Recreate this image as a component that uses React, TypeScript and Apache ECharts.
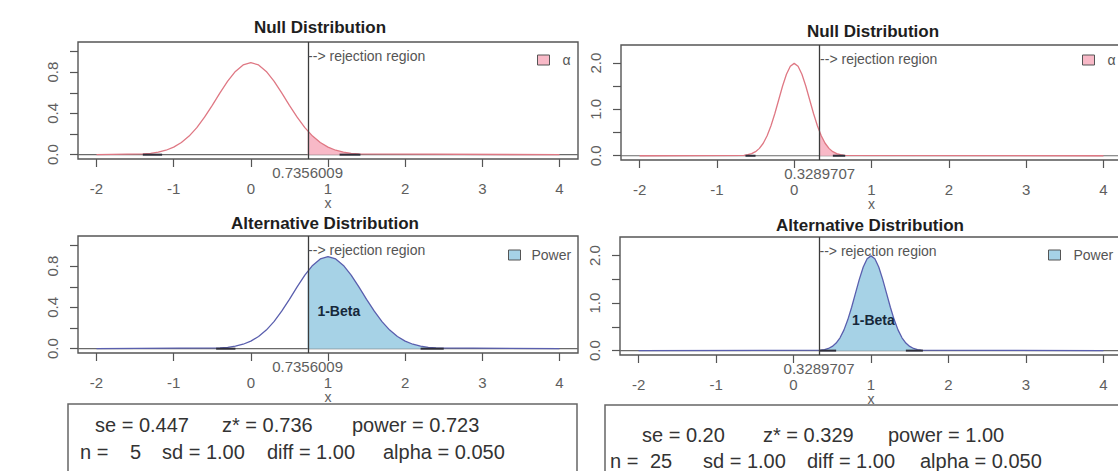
import React, { useEffect, useRef } from 'react';
import * as echarts from 'echarts';

const FONT = '"Liberation Sans", Arial, Helvetica, sans-serif';

// ---- axis ticks / labels ----
const X_DATA_RANGE = [-2, 4];
const X_TICKS = [-2, -1, 0, 1, 2, 3, 4];
const Y_LIM_N5 = 1.05;
const Y_LIM_N25 = 2.3;
const Y_TICKS_N5 = [0, 0.2, 0.4, 0.6, 0.8, 1.0];
const Y_LABELS_N5 = [0, 0.4, 0.8];
const Y_TICKS_N25 = [0, 0.5, 1, 1.5, 2];
const Y_LABELS_N25 = [0, 1, 2];

// ---- critical values ----
const Z_STAR_N5 = 0.7356009;
const Z_LABEL_N5 = '0.7356009';
const Z_STAR_N25 = 0.3289707;
const Z_LABEL_N25 = '0.3289707';

// ---- n = 5 densities ----
const N5_NULL_X = [-2, -1.4, -1.3, -1.2, -1.1, -1.0, -0.9, -0.8, -0.7, -0.6, -0.5, -0.4, -0.3, -0.2, -0.1, 0, 0.1, 0.2, 0.3, 0.4, 0.5, 0.6, 0.7, 0.8, 0.9, 1.0, 1.1, 1.2, 1.3, 1.4, 4];
const N5_NULL_Y = [0, 0.007, 0.013, 0.024, 0.043, 0.073, 0.118, 0.180, 0.262, 0.363, 0.478, 0.598, 0.712, 0.807, 0.870, 0.892, 0.870, 0.807, 0.712, 0.598, 0.478, 0.363, 0.262, 0.180, 0.118, 0.073, 0.043, 0.024, 0.013, 0.007, 0];
const N5_ALT_X = [-2, -0.4, -0.3, -0.2, -0.1, 0, 0.1, 0.2, 0.3, 0.4, 0.5, 0.6, 0.7, 0.8, 0.9, 1.0, 1.1, 1.2, 1.3, 1.4, 1.5, 1.6, 1.7, 1.8, 1.9, 2.0, 2.1, 2.2, 2.3, 2.4, 4];
const N5_ALT_Y = [0, 0.007, 0.013, 0.024, 0.043, 0.073, 0.118, 0.180, 0.262, 0.363, 0.478, 0.598, 0.712, 0.807, 0.870, 0.892, 0.870, 0.807, 0.712, 0.598, 0.478, 0.363, 0.262, 0.180, 0.118, 0.073, 0.043, 0.024, 0.013, 0.007, 0];
const N5_NULL_FILL_X = [0.7356, 0.8, 0.9, 1.0, 1.1, 1.2, 1.3, 1.4];
const N5_NULL_FILL_Y = [0.231, 0.180, 0.118, 0.073, 0.043, 0.024, 0.013, 0.007];
const N5_ALT_FILL_X = [0.7356, 0.8, 0.9, 1.0, 1.1, 1.2, 1.3, 1.4, 1.5, 1.6, 1.7, 1.8, 1.9, 2.0, 2.1, 2.2, 2.3, 2.4];
const N5_ALT_FILL_Y = [0.749, 0.807, 0.870, 0.892, 0.870, 0.807, 0.712, 0.598, 0.478, 0.363, 0.262, 0.180, 0.118, 0.073, 0.043, 0.024, 0.013, 0.007];
const N5_NULL_TAILS = [[-1.4, -1.15], [1.15, 1.42]];
const N5_ALT_TAILS = [[-0.45, -0.2], [2.2, 2.5]];

// ---- n = 25 densities ----
const N25_NULL_X = [-2, -0.65, -0.6, -0.55, -0.5, -0.45, -0.4, -0.35, -0.3, -0.25, -0.2, -0.15, -0.1, -0.05, 0, 0.05, 0.1, 0.15, 0.2, 0.25, 0.3, 0.35, 0.4, 0.45, 0.5, 0.55, 0.6, 0.65, 4];
const N25_NULL_Y = [0, 0.010, 0.022, 0.045, 0.088, 0.159, 0.270, 0.432, 0.648, 0.913, 1.210, 1.506, 1.760, 1.934, 1.995, 1.934, 1.760, 1.506, 1.210, 0.913, 0.648, 0.432, 0.270, 0.159, 0.088, 0.045, 0.022, 0.010, 0];
const N25_ALT_X = [-2, 0.35, 0.4, 0.45, 0.5, 0.55, 0.6, 0.65, 0.7, 0.75, 0.8, 0.85, 0.9, 0.95, 1.0, 1.05, 1.1, 1.15, 1.2, 1.25, 1.3, 1.35, 1.4, 1.45, 1.5, 1.55, 1.6, 1.65, 4];
const N25_ALT_Y = [0, 0.010, 0.022, 0.045, 0.088, 0.159, 0.270, 0.432, 0.648, 0.913, 1.210, 1.506, 1.760, 1.934, 1.995, 1.934, 1.760, 1.506, 1.210, 0.913, 0.648, 0.432, 0.270, 0.159, 0.088, 0.045, 0.022, 0.010, 0];
const N25_NULL_FILL_X = [0.329, 0.35, 0.4, 0.45, 0.5, 0.55, 0.6, 0.65];
const N25_NULL_FILL_Y = [0.516, 0.432, 0.270, 0.159, 0.088, 0.045, 0.022, 0.010];
const N25_ALT_FILL_X = [0.329, 0.35, 0.4, 0.45, 0.5, 0.55, 0.6, 0.65, 0.7, 0.75, 0.8, 0.85, 0.9, 0.95, 1.0, 1.05, 1.1, 1.15, 1.2, 1.25, 1.3, 1.35, 1.4, 1.45, 1.5, 1.55, 1.6, 1.65];
const N25_ALT_FILL_Y = [0.007, 0.010, 0.022, 0.045, 0.088, 0.159, 0.270, 0.432, 0.648, 0.913, 1.210, 1.506, 1.760, 1.934, 1.995, 1.934, 1.760, 1.506, 1.210, 0.913, 0.648, 0.432, 0.270, 0.159, 0.088, 0.045, 0.022, 0.010];
const N25_NULL_TAILS = [[-0.63, -0.5], [0.5, 0.66]];
const N25_ALT_TAILS = [[0.33, 0.55], [1.45, 1.67]];

// ---- annotation positions (data coords) ----
const REJ_LABEL_Y_N5 = 0.96;
const REJ_LABEL_Y_N25 = 2.1;
const BETA_POS_N5 = [1.14, 0.365];
const BETA_POS_N25 = [1.03, 0.64];

// ---- summary texts ----
const SUMMARY_N5_LINE1 = ['se = 0.447', 'z* = 0.736', 'power = 0.723'];
const SUMMARY_N5_LINE2 = ['n =', '5', 'sd = 1.00', 'diff = 1.00', 'alpha = 0.050'];
const SUMMARY_N25_LINE1 = ['se = 0.20', 'z* = 0.329', 'power = 1.00'];
const SUMMARY_N25_LINE2 = ['n =', '25', 'sd = 1.00', 'diff = 1.00', 'alpha = 0.050'];

const NULL_LINE = '#df7884';
const NULL_FILL = '#f8b9c7';
const ALT_LINE = '#5a5fae';
const ALT_FILL = '#a6d2e6';
const ALT_BASE = '#a3a3e3';
const BOX = '#555555';
const TICK_TEXT = '#5e5e5e';

const zip = (xs: number[], ys: number[]) => xs.map((x, i) => [x, ys[i]]);

type Panel = {
  grid: { left: number; top: number; width: number; height: number };
  title: string; titleX: number; titleY: number;
  yLim: number; yTicks: number[]; yLabels: number[];
  curveX: number[]; curveY: number[]; curveColor: string; baseColor: string;
  fillX: number[]; fillY: number[]; fillColor: string; fillName: string;
  tails: number[][]; zStar: number; zLabel: string; rejY: number;
  beta: number[] | null;
  legend: { left: number; top: number; gap: number };
};

const panels: Panel[] = [
  {
    grid: { left: 78, top: 42, width: 500, height: 117 },
    title: 'Null Distribution', titleX: 320, titleY: 27,
    yLim: Y_LIM_N5, yTicks: Y_TICKS_N5, yLabels: Y_LABELS_N5,
    curveX: N5_NULL_X, curveY: N5_NULL_Y, curveColor: NULL_LINE, baseColor: NULL_LINE,
    fillX: N5_NULL_FILL_X, fillY: N5_NULL_FILL_Y, fillColor: NULL_FILL, fillName: 'α',
    tails: N5_NULL_TAILS, zStar: Z_STAR_N5, zLabel: Z_LABEL_N5, rejY: REJ_LABEL_Y_N5,
    beta: null, legend: { left: 537, top: 53, gap: 8 },
  },
  {
    grid: { left: 621, top: 45, width: 501, height: 115 },
    title: 'Null Distribution', titleX: 873, titleY: 31,
    yLim: Y_LIM_N25, yTicks: Y_TICKS_N25, yLabels: Y_LABELS_N25,
    curveX: N25_NULL_X, curveY: N25_NULL_Y, curveColor: NULL_LINE, baseColor: NULL_LINE,
    fillX: N25_NULL_FILL_X, fillY: N25_NULL_FILL_Y, fillColor: NULL_FILL, fillName: 'α',
    tails: N25_NULL_TAILS, zStar: Z_STAR_N25, zLabel: Z_LABEL_N25, rejY: REJ_LABEL_Y_N25,
    beta: null, legend: { left: 1082, top: 53, gap: 8 },
  },
  {
    grid: { left: 78, top: 236, width: 500, height: 117 },
    title: 'Alternative Distribution', titleX: 325, titleY: 223,
    yLim: Y_LIM_N5, yTicks: Y_TICKS_N5, yLabels: Y_LABELS_N5,
    curveX: N5_ALT_X, curveY: N5_ALT_Y, curveColor: ALT_LINE, baseColor: ALT_BASE,
    fillX: N5_ALT_FILL_X, fillY: N5_ALT_FILL_Y, fillColor: ALT_FILL, fillName: 'Power',
    tails: N5_ALT_TAILS, zStar: Z_STAR_N5, zLabel: Z_LABEL_N5, rejY: REJ_LABEL_Y_N5,
    beta: BETA_POS_N5, legend: { left: 508, top: 248, gap: 6 },
  },
  {
    grid: { left: 620, top: 237, width: 502, height: 118 },
    title: 'Alternative Distribution', titleX: 870, titleY: 225,
    yLim: Y_LIM_N25, yTicks: Y_TICKS_N25, yLabels: Y_LABELS_N25,
    curveX: N25_ALT_X, curveY: N25_ALT_Y, curveColor: ALT_LINE, baseColor: ALT_BASE,
    fillX: N25_ALT_FILL_X, fillY: N25_ALT_FILL_Y, fillColor: ALT_FILL, fillName: 'Power',
    tails: N25_ALT_TAILS, zStar: Z_STAR_N25, zLabel: Z_LABEL_N25, rejY: REJ_LABEL_Y_N25,
    beta: BETA_POS_N25, legend: { left: 1048, top: 248, gap: 8 },
  },
];

function buildOption() {
  const span = X_DATA_RANGE[1] - X_DATA_RANGE[0];
  const xMin = X_DATA_RANGE[0] - 0.04 * span;
  const xMax = X_DATA_RANGE[1] + 0.04 * span;

  const grid: any[] = [];
  const xAxis: any[] = [];
  const yAxis: any[] = [];
  const series: any[] = [];
  const legend: any[] = [];
  const graphic: any[] = [];

  panels.forEach((p, gi) => {
    grid.push({
      ...p.grid, show: true, borderColor: BOX, borderWidth: 1.4,
      backgroundColor: 'transparent', containLabel: false, outerBoundsMode: 'none',
    });
    const tickLine = { color: BOX, width: 1.2 };
    xAxis.push({
      type: 'value', gridIndex: gi, min: xMin, max: xMax, position: 'bottom',
      axisLine: { show: false, onZero: false },
      axisTick: { show: true, inside: false, length: 8, customValues: X_TICKS, lineStyle: tickLine },
      axisLabel: { customValues: X_TICKS, margin: 22, fontSize: 15, color: TICK_TEXT, fontFamily: FONT },
      splitLine: { show: false },
      name: 'x', nameLocation: 'middle', nameGap: 37, nameMoveOverlap: false,
      nameTextStyle: { fontSize: 14, color: TICK_TEXT, fontFamily: FONT },
    });
    xAxis.push({
      type: 'value', gridIndex: gi, min: xMin, max: xMax, position: 'bottom',
      axisLine: { show: false, onZero: false },
      axisTick: { show: false },
      axisLabel: {
        customValues: [p.zStar], formatter: () => p.zLabel, margin: 6,
        fontSize: 15, color: TICK_TEXT, fontFamily: FONT,
      },
      splitLine: { show: false },
    });
    yAxis.push({
      type: 'value', gridIndex: gi, min: -0.04 * p.yLim, max: 1.04 * p.yLim,
      axisLine: { show: false, onZero: false },
      axisTick: { show: true, inside: false, length: 8, customValues: p.yTicks, lineStyle: tickLine },
      axisLabel: {
        customValues: p.yLabels, formatter: (v: number) => Number(v).toFixed(1),
        rotate: 90, margin: 18, fontSize: 15, color: TICK_TEXT, fontFamily: FONT,
      },
      splitLine: { show: false },
    });

    const xi = gi * 2;
    // gray abline at 0
    series.push({
      type: 'line', xAxisIndex: xi, yAxisIndex: gi, silent: true, symbol: 'none', z: 1,
      data: [[xMin, 0], [xMax, 0]], lineStyle: { color: '#6a6a6a', width: 1.2 },
    });
    // shaded region
    series.push({
      name: p.fillName, type: 'line', xAxisIndex: xi, yAxisIndex: gi, silent: true,
      symbol: 'none', z: 2, data: zip(p.fillX, p.fillY),
      itemStyle: { color: p.fillColor },
      lineStyle: { width: 0, color: p.fillColor },
      areaStyle: { color: p.fillColor, opacity: 1 },
    });
    // density curve (incl. flat baseline part)
    const markPoints: any[] = [
      {
        coord: [p.zStar, p.rejY], symbol: 'rect', symbolSize: 1,
        itemStyle: { color: 'rgba(0,0,0,0)' },
        label: {
          show: true, position: 'right', distance: 0, formatter: '--> rejection region',
          fontSize: 14, color: '#555', fontFamily: FONT,
        },
      },
    ];
    if (p.beta) {
      markPoints.push({
        coord: p.beta, symbol: 'rect', symbolSize: 1,
        itemStyle: { color: 'rgba(0,0,0,0)' },
        label: {
          show: true, position: 'inside', formatter: '1-Beta',
          fontSize: 14, fontWeight: 'bold', color: '#16283a', fontFamily: FONT,
        },
      });
    }
    series.push({
      type: 'line', xAxisIndex: xi, yAxisIndex: gi, silent: true, symbol: 'none', z: 3,
      data: zip(p.curveX, p.curveY),
      lineStyle: { color: p.curveColor, width: 1.3 },
      markLine: {
        silent: true, symbol: 'none', label: { show: false },
        lineStyle: { color: '#3c3c3c', width: 1.3, type: 'solid' },
        emphasis: { disabled: true },
        data: [{ xAxis: p.zStar }],
      },
      markPoint: { silent: true, data: markPoints },
    });
    // dark tails on the baseline
    p.tails.forEach((t) => {
      series.push({
        type: 'line', xAxisIndex: xi, yAxisIndex: gi, silent: true, symbol: 'none', z: 4,
        data: [[t[0], 0], [t[1], 0]], lineStyle: { color: '#2e2e3a', width: 2 },
      });
    });

    legend.push({
      data: [{ name: p.fillName, itemStyle: { color: p.fillColor, borderColor: '#555', borderWidth: 1 } }],
      left: p.legend.left, top: p.legend.top, padding: 0, orient: 'horizontal',
      icon: 'rect', itemWidth: 12, itemHeight: 10, selectedMode: false,
      textStyle: { fontSize: 14, color: '#555', fontFamily: FONT, padding: [0, 0, 0, p.legend.gap] },
    });

    graphic.push({
      type: 'text', x: p.titleX, y: p.titleY, z: 50,
      style: {
        text: p.title, font: `bold 17px ${FONT}`, fill: '#1e1e1e',
        align: 'center', verticalAlign: 'middle', textAlign: 'center', textVerticalAlign: 'middle',
      },
    });
  });

  // summary boxes
  const boxText = (text: string, x: number, y: number) => ({
    type: 'text', x, y, z: 101,
    style: {
      text, font: `20px ${FONT}`, fill: '#333',
      align: 'left', verticalAlign: 'middle', textAlign: 'left', textVerticalAlign: 'middle',
    },
  });
  graphic.push({
    type: 'rect', z: 100, shape: { x: 68, y: 404, width: 509, height: 90 },
    style: { fill: '#fff', stroke: '#666', lineWidth: 1.5 },
  });
  graphic.push({
    type: 'rect', z: 100, shape: { x: 605, y: 405, width: 530, height: 90 },
    style: { fill: '#fff', stroke: '#666', lineWidth: 1.5 },
  });
  const l1x = [95, 222, 352];
  const l2x = [80, 130, 162, 267, 383];
  SUMMARY_N5_LINE1.forEach((t, i) => graphic.push(boxText(t, l1x[i], 425)));
  SUMMARY_N5_LINE2.forEach((t, i) => graphic.push(boxText(t, l2x[i], 452)));
  const r1x = [642, 763, 888];
  const r2x = [610, 650, 703, 807, 920];
  SUMMARY_N25_LINE1.forEach((t, i) => graphic.push(boxText(t, r1x[i], 435)));
  SUMMARY_N25_LINE2.forEach((t, i) => graphic.push(boxText(t, r2x[i], 461)));

  return {
    animation: false,
    backgroundColor: '#ffffff',
    textStyle: { fontFamily: FONT },
    grid, xAxis, yAxis, series, legend, graphic,
  };
}

export default function App() {
  const ref = useRef<HTMLDivElement>(null);
  useEffect(() => {
    document.body.style.margin = '0';
    document.body.style.overflow = 'hidden';
    if (!ref.current) return;
    const chart = echarts.init(ref.current, null, { renderer: 'svg' });
    chart.setOption(buildOption() as any);
    return () => chart.dispose();
  }, []);
  return (
    <div style={{ position: 'fixed', left: 0, top: 0, width: 1118, height: 471, overflow: 'hidden', background: '#fff' }}>
      <div ref={ref} style={{ width: 1130, height: 471 }} />
    </div>
  );
}
